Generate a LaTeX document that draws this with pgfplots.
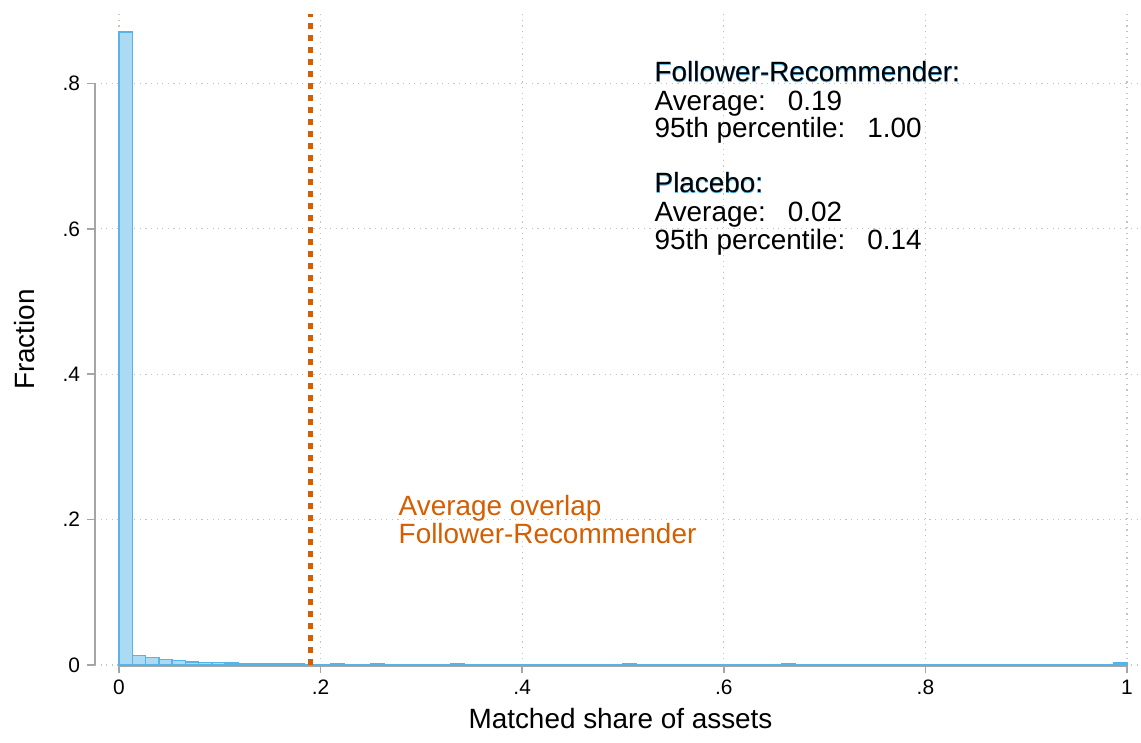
\documentclass[border=0pt]{standalone}
\usepackage{pgfplots}
\usepackage{pgfplotstable}
\pgfplotsset{compat=1.18}
\usepackage{fontspec}
\setmainfont{Liberation Sans}
\newfontfamily\halofont{Liberation Sans}[FakeBold=2]
\definecolor{barfill}{RGB}{172,218,243}
\definecolor{baredge}{RGB}{86,180,233}
\definecolor{orng}{RGB}{213,94,0}
\definecolor{axgray}{RGB}{165,165,165}
\definecolor{gridgray}{RGB}{195,195,195}

\pgfplotstableread{
x y
0        0.8710
0.013158 0.0134
0.026316 0.0106
0.039474 0.0079
0.052632 0.0060
0.065789 0.0043
0.078947 0.0037
0.092105 0.0036
0.105263 0.0028
0.118421 0.0023
0.131579 0.0019
0.144737 0.0015
0.157895 0.0013
0.171053 0.0011
0.184211 0.0010
0.197368 0.0010
0.210526 0.0018
0.223684 0.0009
0.236842 0.0008
0.25     0.0012
0.263158 0.0008
0.276316 0.0007
0.289474 0.0007
0.302632 0.0007
0.315789 0.0007
0.328947 0.0022
0.342105 0.0007
0.355263 0.0007
0.368421 0.0007
0.381579 0.0007
0.394737 0.0006
0.407895 0.0006
0.421053 0.0006
0.434211 0.0006
0.447368 0.0006
0.460526 0.0006
0.473684 0.0006
0.486842 0.0006
0.5      0.0022
0.513158 0.0006
0.526316 0.0006
0.539474 0.0006
0.552632 0.0006
0.565789 0.0006
0.578947 0.0006
0.592105 0.0006
0.605263 0.0006
0.618421 0.0006
0.631579 0.0006
0.644737 0.0006
0.657895 0.0012
0.671053 0.0006
0.684211 0.0006
0.697368 0.0006
0.710526 0.0006
0.723684 0.0006
0.736842 0.0006
0.75     0.0008
0.763158 0.0006
0.776316 0.0006
0.789474 0.0006
0.802632 0.0006
0.815789 0.0006
0.828947 0.0006
0.842105 0.0006
0.855263 0.0006
0.868421 0.0006
0.881579 0.0006
0.894737 0.0006
0.907895 0.0006
0.921053 0.0006
0.934211 0.0006
0.947368 0.0006
0.960526 0.0006
0.973684 0.0006
0.986842 0.0030
1        0.0030
}\histdata

\begin{document}
\begin{tikzpicture}
\begin{axis}[
  name=ax,
  scale only axis,
  width=521.5bp, height=325.5bp,
  xmin=-0.0238, xmax=1.0109, ymin=0, ymax=0.8955,
  axis x line*=bottom, axis y line*=left,
  axis line style={draw=none},
  xtick={0,0.2,0.4,0.6,0.8,1}, xticklabels={0,.2,.4,.6,.8,1},
  ytick={0,0.2,0.4,0.6,0.8}, yticklabels={0,.2,.4,.6,.8},
  tick align=outside,
  major tick length=4bp,
  tick style={axgray, line width=0.75bp},
  grid=major,
  major grid style={gridgray, line width=0.6bp, dash pattern=on 0.6bp off 2.2bp},
  ticklabel style={font=\fontsize{10.5}{12}\selectfont},
  xlabel={Matched share of assets}, ylabel={Fraction},
  label style={font=\fontsize{14}{16}\selectfont},
  xlabel style={xshift=2bp},
  ylabel style={at={(axis description cs:-0.0671,0.5)}, anchor=center},
  clip=false,
]
\draw[axgray, line width=0.75bp] (axis cs:-0.0238,0) -- (axis cs:-0.0238,0.8);
\draw[axgray, line width=0.75bp] (axis cs:0,-0.0012) -- (axis cs:1,-0.0012);
\addplot[ybar interval, fill=barfill, draw=baredge, line width=0.75bp] table[x=x, y=y] {\histdata};
\addplot[orng, line width=2.8bp, dash pattern=on 3bp off 3bp] coordinates {(0.19,0) (0.19,0.8955)};
% annotations
\node[anchor=base west, inner sep=0, font=\halofont\fontsize{14}{16}\selectfont, text=baredge] at (axis cs:0.531,0.8023) {Follower-Recommender:};
\node[anchor=base west, inner sep=0, font=\fontsize{14}{16}\selectfont, text=black] at (axis cs:0.531,0.8023) {Follower-Recommender:};
\node[anchor=base west, inner sep=0, font=\fontsize{14}{16}\selectfont] at (axis cs:0.531,0.7634) {Average:\hspace{11bp}0.19};
\node[anchor=base west, inner sep=0, font=\fontsize{14}{16}\selectfont] at (axis cs:0.531,0.7259) {95th percentile:\hspace{11bp}1.00};
\node[anchor=base west, inner sep=0, font=\halofont\fontsize{14}{16}\selectfont, text=baredge] at (axis cs:0.531,0.6497) {Placebo:};
\node[anchor=base west, inner sep=0, font=\fontsize{14}{16}\selectfont, text=black] at (axis cs:0.531,0.6497) {Placebo:};
\node[anchor=base west, inner sep=0, font=\fontsize{14}{16}\selectfont] at (axis cs:0.531,0.6098) {Average:\hspace{11bp}0.02};
\node[anchor=base west, inner sep=0, font=\fontsize{14}{16}\selectfont] at (axis cs:0.531,0.5718) {95th percentile:\hspace{11bp}0.14};
\node[anchor=base west, inner sep=0, font=\fontsize{14}{16}\selectfont, text=orng] at (axis cs:0.2771,0.2063) {Average overlap};
\node[anchor=base west, inner sep=0, font=\fontsize{14}{16}\selectfont, text=orng] at (axis cs:0.2771,0.1674) {Follower-Recommender};
\end{axis}
\pgfresetboundingbox
\path[use as bounding box] ([shift={(-47.5bp,-38.5bp)}]ax.south west) rectangle ([shift={(1.5bp,7bp)}]ax.north east);
\end{tikzpicture}
\end{document}
